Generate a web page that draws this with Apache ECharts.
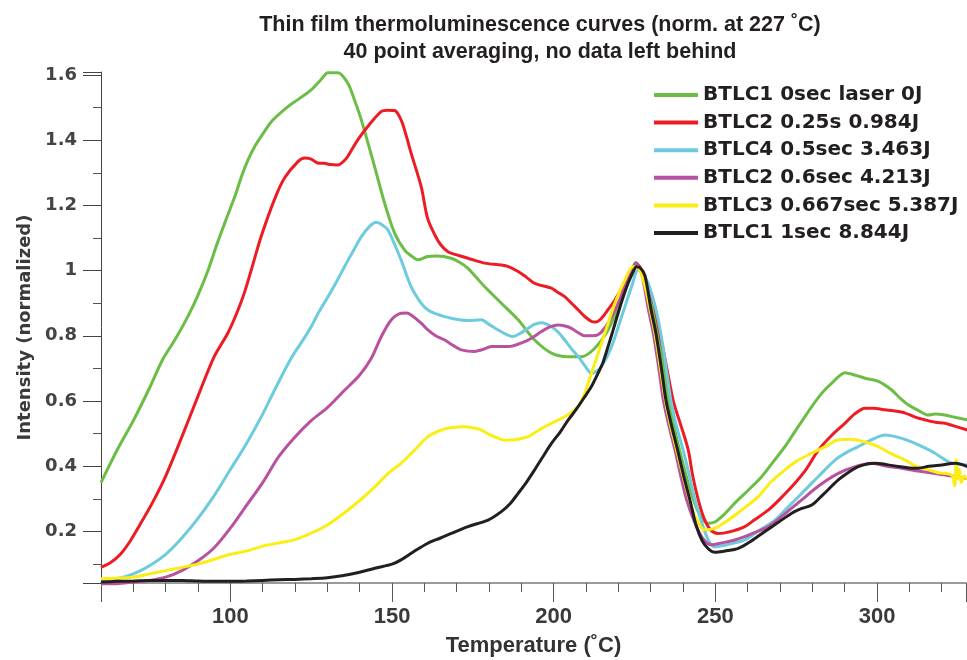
<!DOCTYPE html>
<html>
<head>
<meta charset="utf-8">
<script src="https://cdn.jsdelivr.net/npm/echarts@6/dist/echarts.min.js"></script>
<style>html,body{margin:0;padding:0;background:#fff}#c{width:967px;height:660px}</style>
</head>
<body>
<div id="c"></div>
<script>
const seriesNames = ['BTLC1 0sec laser 0J','BTLC2 0.25s 0.984J','BTLC4 0.5sec 3.463J','BTLC2 0.6sec 4.213J','BTLC3 0.667sec 5.387J','BTLC1 1sec 8.844J'];
const seriesColors = ['#6cbd45','#ed1c24','#6ccbdd','#b8529f','#fbee14','#231f20'];

const green = [[60,0.35],[65,0.45],[70,0.54],[75,0.64],[79,0.726],[83,0.79],[87,0.862],[90,0.925],[93,0.998],[96,1.085],[99,1.165],[101.5,1.23],[103.5,1.29],[105.5,1.34],[107.5,1.38],[109.5,1.411],[113,1.46],[117.8,1.503],[121,1.525],[125,1.554],[128,1.585],[130.2,1.607],[133.3,1.607],[136.3,1.575],[138.5,1.52],[140.5,1.462],[144.6,1.319],[147.7,1.207],[150.8,1.115],[153.9,1.063],[156,1.045],[158,1.033],[161,1.043],[164,1.045],[168.3,1.038],[171,1.025],[173.5,1.007],[178.6,0.951],[183.8,0.90],[189,0.849],[194.1,0.787],[199.3,0.747],[204.5,0.736],[208.6,0.736],[212.7,0.762],[216.8,0.818],[221,0.91],[224.1,0.997],[225.3,1.025],[227,1.0],[229,0.95],[230.8,0.88],[232.3,0.808],[234,0.70],[235.4,0.603],[237,0.53],[238.9,0.45],[241,0.37],[243.2,0.297],[245.5,0.245],[247.8,0.225],[250,0.23],[253,0.255],[256,0.287],[260,0.325],[264.3,0.368],[268,0.415],[271.5,0.46],[275.5,0.52],[279.8,0.583],[283,0.625],[286,0.655],[290.1,0.687],[293,0.68],[296.3,0.67],[300.4,0.66],[304.5,0.634],[307,0.61],[309.7,0.588],[313,0.57],[315.9,0.557],[318,0.56],[321,0.557],[324,0.55],[328,0.542]];

const red = [[60,0.09],[63,0.105],[66,0.13],[69,0.17],[72,0.22],[76,0.29],[80,0.37],[85,0.49],[90,0.615],[95,0.736],[99.2,0.808],[102,0.87],[104.3,0.931],[107,1.02],[109.5,1.104],[113.6,1.217],[116.7,1.283],[120.9,1.334],[123,1.345],[125,1.342],[127,1.33],[129.1,1.329],[131,1.325],[133.3,1.324],[135,1.335],[136.3,1.35],[139.4,1.401],[142.5,1.442],[146.7,1.488],[148.5,1.492],[150.8,1.491],[152.8,1.462],[154.5,1.41],[155.9,1.36],[159,1.258],[161,1.16],[163.2,1.11],[165,1.08],[167.3,1.058],[170,1.048],[173.5,1.038],[178.6,1.023],[183.8,1.017],[186,1.012],[189,0.997],[191.5,0.98],[194.1,0.961],[199.3,0.946],[201,0.935],[203.4,0.92],[205.5,0.90],[207.6,0.879],[209.5,0.86],[211.7,0.844],[213,0.842],[214.8,0.854],[216.8,0.88],[218.9,0.91],[222,0.961],[224.6,1.007],[225.6,1.02],[227,1.005],[229,0.96],[231,0.90],[233,0.80],[235,0.70],[237,0.60],[239.5,0.52],[241.6,0.45],[243,0.37],[244.7,0.297],[246.5,0.24],[248.5,0.205],[250.9,0.194],[254,0.198],[259.1,0.215],[262,0.235],[266.4,0.266],[270,0.30],[273.6,0.337],[278,0.39],[281.9,0.45],[286,0.495],[290.1,0.532],[293,0.56],[296.3,0.578],[299,0.578],[302.5,0.573],[305,0.57],[308.7,0.563],[312,0.55],[314.9,0.542],[318,0.535],[321,0.532],[325,0.52],[328,0.511]];

const cyan = [[60,0.05],[65,0.055],[70,0.07],[75,0.095],[80,0.13],[85,0.18],[90,0.24],[95,0.31],[100,0.39],[105,0.47],[110,0.56],[114,0.64],[118.8,0.731],[122,0.78],[125,0.828],[127.5,0.875],[130.2,0.92],[132.8,0.965],[135.3,1.012],[138,1.06],[140.5,1.104],[143,1.135],[145.1,1.148],[147,1.14],[148.7,1.125],[150.8,1.08],[152.8,1.033],[155.9,0.951],[159,0.9],[161.1,0.879],[163.2,0.869],[168.3,0.854],[173.5,0.847],[177.6,0.849],[180,0.835],[182.8,0.818],[185,0.806],[187.4,0.798],[190,0.81],[192.1,0.823],[194,0.835],[196.2,0.84],[199.3,0.828],[201.5,0.81],[203.4,0.787],[205.5,0.76],[207.6,0.736],[209.5,0.71],[211.7,0.685],[213,0.69],[214.8,0.706],[217.9,0.767],[221,0.859],[224.1,0.951],[226.1,1.002],[227.5,0.99],[229.2,0.961],[231.6,0.88],[233.1,0.808],[234.8,0.70],[236.2,0.603],[237.8,0.53],[240,0.45],[242,0.37],[243.6,0.30],[246,0.22],[248,0.17],[249.8,0.153],[253,0.158],[256,0.165],[259.1,0.174],[263,0.20],[268.4,0.235],[272,0.27],[276.7,0.317],[282,0.37],[287,0.419],[291,0.445],[294.2,0.46],[298,0.48],[302.5,0.496],[306,0.49],[310.7,0.475],[314,0.46],[317.9,0.44],[321,0.42],[323.1,0.409],[328,0.404]];

const magenta = [[60,0.04],[65,0.04],[70,0.045],[75,0.05],[80,0.06],[85,0.08],[90,0.11],[95,0.15],[100,0.21],[105,0.28],[110,0.35],[115,0.43],[120,0.49],[125,0.54],[130,0.58],[135,0.63],[140,0.68],[143.6,0.731],[146.7,0.798],[149.8,0.849],[152.8,0.869],[154.5,0.87],[155.9,0.864],[159,0.839],[161.1,0.818],[163.5,0.80],[166.3,0.787],[169,0.77],[171.4,0.757],[175.5,0.752],[178,0.758],[180.7,0.767],[185.9,0.767],[191,0.782],[193.5,0.795],[196.2,0.813],[199,0.828],[201.4,0.833],[203.5,0.83],[205.5,0.823],[207.5,0.81],[209.6,0.8],[211.5,0.80],[213.7,0.803],[216.8,0.839],[219.9,0.9],[223,0.971],[225.6,1.023],[227,1.0],[229.3,0.88],[230.8,0.808],[232.5,0.70],[233.9,0.603],[235.5,0.53],[237.5,0.45],[239.3,0.37],[241.1,0.297],[243.5,0.23],[246,0.18],[248.8,0.159],[252,0.165],[256,0.174],[261,0.192],[266.4,0.215],[271,0.25],[276.7,0.297],[282,0.34],[288,0.378],[293,0.398],[298.4,0.409],[303,0.40],[307.6,0.394],[312,0.386],[317.9,0.378],[323,0.37],[328,0.363]];

const yellow = [[60,0.055],[65,0.057],[70,0.06],[75,0.07],[80,0.08],[85,0.09],[90,0.10],[95,0.115],[100,0.13],[105,0.14],[110,0.155],[115,0.165],[120,0.175],[125,0.195],[130,0.22],[135,0.255],[140,0.295],[145,0.34],[149,0.38],[152.8,0.409],[157,0.45],[161.1,0.491],[165.2,0.511],[168,0.518],[172.4,0.521],[175,0.518],[177.6,0.511],[180,0.498],[182.8,0.486],[185,0.48],[187.9,0.481],[190,0.485],[192.1,0.491],[194.5,0.505],[197.2,0.521],[200,0.535],[203.4,0.552],[206.5,0.573],[208,0.59],[209.6,0.624],[211,0.665],[212.7,0.716],[215.8,0.808],[218.9,0.9],[222,0.971],[224.5,1.012],[226,1.01],[228,0.96],[229.8,0.88],[231.3,0.808],[233,0.70],[234.5,0.603],[236,0.53],[238,0.45],[240,0.37],[242,0.297],[244,0.24],[246.7,0.205],[250,0.21],[254,0.235],[258,0.265],[263.3,0.307],[267,0.35],[271.5,0.389],[275,0.415],[279.8,0.44],[284,0.46],[288,0.481],[292.2,0.483],[296,0.475],[300.4,0.46],[304,0.44],[308.7,0.419],[312,0.40],[315.9,0.389],[319,0.38],[323.1,0.373],[324,0.34],[324.5,0.42],[325,0.36],[325.5,0.39],[326,0.35],[327,0.37],[328,0.36]];

const black = [[60,0.045],[65,0.047],[70,0.048],[75,0.05],[80,0.05],[85,0.05],[90,0.048],[95,0.047],[100,0.047],[105,0.048],[110,0.05],[115,0.052],[120,0.053],[125,0.055],[130,0.058],[135,0.065],[140,0.075],[145,0.088],[150,0.10],[152.8,0.113],[157,0.14],[161.1,0.164],[165,0.18],[168.3,0.194],[173.5,0.215],[179.7,0.235],[183.8,0.261],[186.5,0.285],[189,0.317],[191.5,0.35],[194.1,0.389],[196.7,0.43],[199.3,0.47],[202,0.505],[204.5,0.542],[207,0.575],[209.6,0.613],[211.7,0.645],[213.7,0.685],[215.3,0.72],[216.8,0.767],[218.3,0.815],[219.9,0.869],[221.5,0.92],[223,0.961],[224.5,0.995],[225.6,1.012],[226.8,1.008],[228.2,0.985],[230.1,0.88],[231.6,0.808],[233.3,0.70],[234.7,0.603],[236.3,0.53],[238.3,0.45],[240.2,0.37],[242.1,0.297],[244,0.22],[246,0.17],[248,0.145],[249.8,0.136],[253,0.14],[257.1,0.148],[261,0.17],[265.3,0.2],[269,0.225],[273.6,0.256],[276.5,0.27],[279.8,0.281],[283,0.31],[288,0.358],[291,0.38],[294.2,0.399],[299.3,0.409],[303,0.405],[306.6,0.399],[310,0.395],[312.8,0.394],[316,0.40],[320,0.404],[324.2,0.409],[328,0.399]];

const allData = [green, red, cyan, magenta, yellow, black];

const chart = echarts.init(document.getElementById('c'), null, {renderer: 'canvas'});
const option = {
  animation: false,
  backgroundColor: '#fff',
  title: {
    text: 'Thin film thermoluminescence curves (norm. at 227 \u02DAC)\n40 point averaging, no data left behind',
    left: 535, top: 7, textAlign: 'center',
    textStyle: {fontFamily: 'Liberation Sans, Arial, sans-serif', fontWeight: 'bold', fontSize: 21.5, lineHeight: 26.6, color: '#231f20'}
  },
  legend: {
    orient: 'vertical', left: 654, top: 85, padding: 0,
    itemWidth: 44, itemHeight: 4, itemGap: 7.6, icon: 'rect',
    textStyle: {fontFamily: 'DejaVu Sans, sans-serif', fontWeight: 'bold', fontSize: 20, lineHeight: 20, color: '#231f20'},
    data: seriesNames
  },
  grid: {left: 101, right: 1, top: 72, bottom: 77, containLabel: false, outerBoundsMode: 'none'},
  xAxis: {
    type: 'value', min: 60, max: 327.5, splitNumber: 5,
    name: 'Temperature (\u02DAC)', nameLocation: 'middle', nameGap: 52,
    nameTextStyle: {fontFamily: 'Liberation Sans, Arial, sans-serif', fontWeight: 'bold', fontSize: 22, color: '#333'},
    axisLine: {show: true, onZero: false, lineStyle: {color: '#9a9a9a', width: 2}},
    axisTick: {show: true, length: 19, lineStyle: {color: '#555', width: 1}},
    minorTick: {show: true, splitNumber: 5, length: 9, lineStyle: {color: '#555', width: 1}},
    axisLabel: {margin: 23, showMinLabel: false, showMaxLabel: false, fontFamily: 'Liberation Sans, Arial, sans-serif', fontWeight: 'bold', fontSize: 22, color: '#3a3a3a'},
    splitLine: {show: false}
  },
  yAxis: {
    type: 'value', min: 0.042, max: 1.609, splitNumber: 8,
    name: 'Intensity (normalized)', nameLocation: 'middle', nameGap: 67,
    nameTextStyle: {fontFamily: 'DejaVu Sans, sans-serif', fontWeight: 'bold', fontSize: 18, color: '#3a3a3a'},
    axisLine: {show: true, onZero: false, lineStyle: {color: '#444', width: 1}},
    axisTick: {show: true, length: 18, lineStyle: {color: '#444', width: 1}},
    minorTick: {show: true, splitNumber: 2, length: 8, lineStyle: {color: '#555', width: 1}},
    axisLabel: {margin: 24, showMinLabel: false, showMaxLabel: false, fontFamily: 'DejaVu Sans, sans-serif', fontWeight: 'bold', fontSize: 18, color: '#444',
      formatter: v => String(parseFloat(v.toFixed(1)))},
    splitLine: {show: false}
  },
  series: seriesNames.map((n, i) => ({
    name: n, type: 'line', data: allData[i], showSymbol: false, symbol: 'none',
    smooth: 0.3, clip: false, color: seriesColors[i],
    lineStyle: {width: 3, color: seriesColors[i]}
  }))
};
chart.setOption(option);
</script>
</body>
</html>
